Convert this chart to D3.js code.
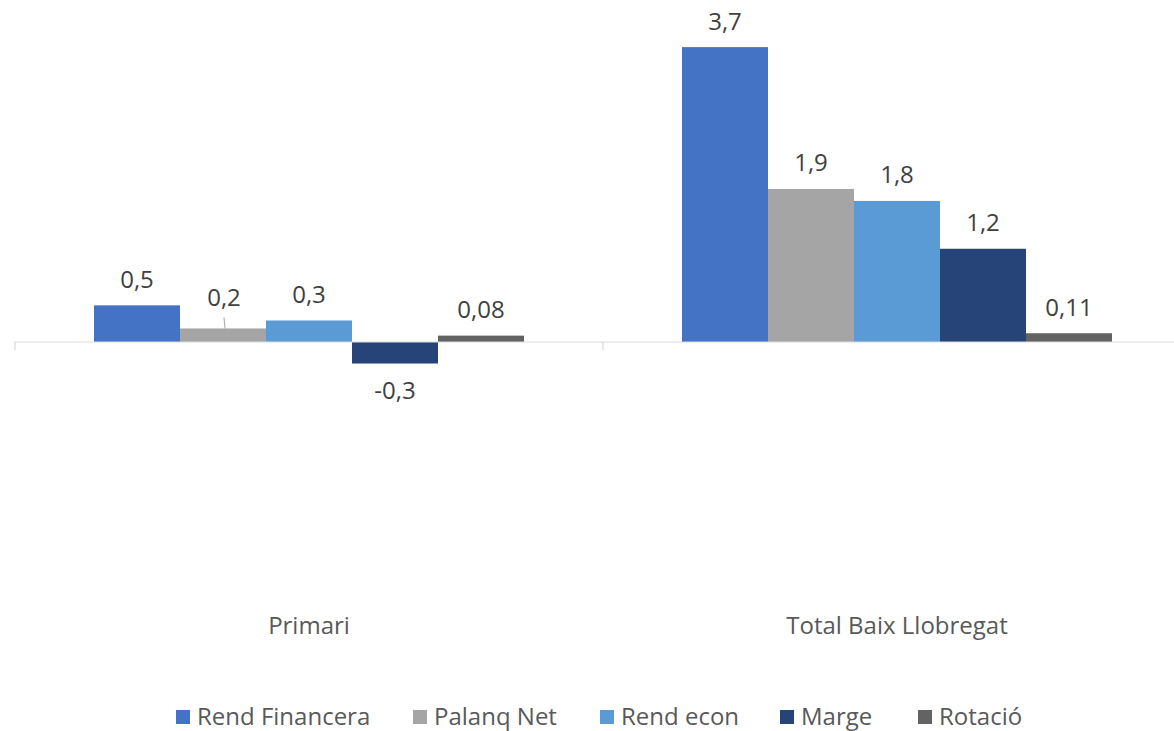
<!DOCTYPE html>
<html>
<head>
<meta charset="utf-8">
<script src="https://cdn.jsdelivr.net/npm/d3@7"></script>
<style>
  html, body { margin: 0; padding: 0; background: #fff; }
  svg { display: block; font-family: "Open Sans", "Noto Sans", sans-serif; }
</style>
</head>
<body>
<svg id="chart" width="1174" height="731"></svg>
<script>
const categories = ["Primari", "Total Baix Llobregat"];
const seriesNames = ["Rend Financera", "Palanq Net", "Rend econ", "Marge", "Rotació"];
const seriesColors = ["#4472c4", "#a5a5a5", "#5b9bd5", "#264478", "#636363"];
const seriesDecimals = [1, 1, 1, 1, 2];
const rendFinancera = [0.46, 3.7];
const palanqNet = [0.17, 1.92];
const rendEcon = [0.27, 1.77];
const marge = [-0.27, 1.17];
const rotacio = [0.08, 0.11];
const seriesValues = [rendFinancera, palanqNet, rendEcon, marge, rotacio];

const svg = d3.select("#chart");
const W = 1174, H = 731;
const FS = 24;

const x0 = d3.scaleBand().domain(categories).range([15, 1191]).paddingInner(0).paddingOuter(0);
const x1 = d3.scaleBand().domain(seriesNames).range([0, x0.bandwidth()]).paddingInner(0).paddingOuter(0.9186);
const y = d3.scaleLinear().domain([-3, 4]).range([342 + 3 * 79.7, 342 - 4 * 79.7]);

const fmt = (v, d) => v.toFixed(d).replace(".", ",");

// bars
const data = [];
categories.forEach((c, ci) => {
  seriesNames.forEach((s, si) => {
    data.push({ cat: c, ser: s, si, value: seriesValues[si][ci] });
  });
});

svg.append("g").selectAll("rect").data(data).join("rect")
  .attr("x", d => x0(d.cat) + x1(d.ser))
  .attr("width", x1.bandwidth())
  .attr("y", d => y(Math.max(0, d.value)))
  .attr("height", d => Math.abs(y(d.value) - y(0)))
  .attr("fill", d => seriesColors[d.si]);

// category axis
const axisG = svg.append("g").attr("transform", `translate(0,${y(0)})`);
axisG.append("line").attr("x1", 14).attr("x2", W).attr("y1", 0).attr("y2", 0)
  .attr("stroke", "#d9d9d9").attr("stroke-width", 1.2);
const tickXs = categories.map(c => x0(c)).concat([x0.range()[1]]);
axisG.selectAll("line.tick").data(tickXs).join("line").attr("class", "tick")
  .attr("x1", d => d).attr("x2", d => d).attr("y1", 0).attr("y2", 8)
  .attr("stroke", "#d9d9d9").attr("stroke-width", 1.2);

svg.append("g").selectAll("text").data(categories).join("text")
  .attr("x", d => x0(d) + x0.bandwidth() / 2)
  .attr("y", 626)
  .attr("dy", "0.35em")
  .attr("text-anchor", "middle")
  .attr("font-size", FS)
  .attr("fill", "#595959")
  .text(d => d);

// value labels
const labelG = svg.append("g");
data.forEach(d => {
  const cx = x0(d.cat) + x1(d.ser) + x1.bandwidth() / 2;
  let cy = d.value >= 0 ? y(d.value) - 26 : y(d.value) + 27;
  const isLeader = d.cat === "Primari" && d.ser === "Palanq Net";
  if (isLeader) {
    cy = y(d.value) - 31;
    labelG.append("line")
      .attr("x1", cx + 1).attr("y1", cy + 20)
      .attr("x2", cx + 2).attr("y2", y(d.value))
      .attr("stroke", "#a6a6a6").attr("stroke-width", 1);
  }
  labelG.append("text")
    .attr("x", cx + (isLeader ? 1 : 0))
    .attr("y", cy)
    .attr("dy", "0.35em")
    .attr("text-anchor", "middle")
    .attr("font-size", FS)
    .attr("fill", "#404040")
    .text(fmt(d.value, seriesDecimals[d.si]));
});

// legend
const legendX = [176, 413, 600, 780, 918];
const legend = svg.append("g");
seriesNames.forEach((s, i) => {
  const g = legend.append("g").attr("transform", `translate(${legendX[i]},717)`);
  g.append("rect").attr("x", 0).attr("y", -7).attr("width", 14).attr("height", 14).attr("fill", seriesColors[i]);
  g.append("text").attr("x", 21).attr("y", 0).attr("dy", "0.35em")
    .attr("font-size", FS).attr("fill", "#595959").text(s);
});
</script>
</body>
</html>
